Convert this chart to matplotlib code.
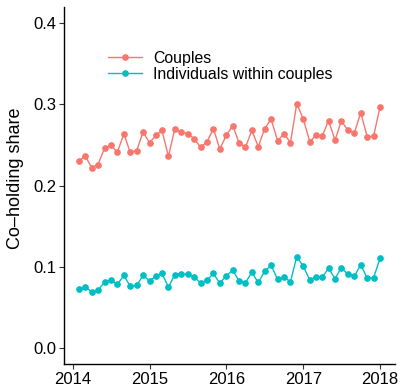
import matplotlib
matplotlib.use("Agg")
import matplotlib.pyplot as plt
import matplotlib.dates as mdates
import pandas as pd

plt.rcParams['font.family'] = ['Liberation Sans', 'DejaVu Sans']

months = pd.date_range("2014-02-01", "2018-01-01", freq="MS")

couples = [0.230, 0.237, 0.222, 0.226, 0.246, 0.250, 0.241, 0.264, 0.241, 0.243,
           0.266, 0.253, 0.262, 0.268, 0.236, 0.270, 0.266, 0.264, 0.258, 0.247,
           0.254, 0.270, 0.245, 0.262, 0.274, 0.253, 0.247, 0.268, 0.248, 0.270,
           0.282, 0.255, 0.264, 0.253, 0.301, 0.282, 0.254, 0.262, 0.261, 0.280,
           0.256, 0.280, 0.268, 0.265, 0.290, 0.260, 0.261, 0.297]

individuals = [0.0725, 0.0755, 0.0693, 0.0713, 0.0812, 0.0837, 0.0783, 0.0895, 0.0762, 0.0771,
               0.0895, 0.0829, 0.0882, 0.0920, 0.0750, 0.0903, 0.0916, 0.0911, 0.0874, 0.0804,
               0.0833, 0.0920, 0.0796, 0.0893, 0.0957, 0.0829, 0.0804, 0.0932, 0.0808, 0.0944,
               0.1019, 0.0845, 0.0874, 0.0817, 0.1126, 0.1006, 0.0837, 0.0879, 0.0870, 0.0985,
               0.0854, 0.0990, 0.0907, 0.0886, 0.1027, 0.0861, 0.0866, 0.1105]

series_names = ["Couples", "Individuals within couples"]
colors = ["#F8766D", "#00BFC4"]

fig = plt.figure(figsize=(4.04, 3.88), dpi=100)
ax = fig.add_axes([0.159, 0.061, 0.819, 0.921])

for vals, name, c in zip([couples, individuals], series_names, colors):
    ax.plot(months, vals, color=c, lw=1.0, marker='o', ms=3.8, mec=c, mfc=c, label=name)

x0 = mdates.date2num(pd.Timestamp("2014-02-01"))
x1 = mdates.date2num(pd.Timestamp("2018-01-01"))
pad = (x1 - x0) * 0.05
ax.set_xlim(x0 - pad, x1 + pad)
ax.set_ylim(-0.02, 0.42)

ax.xaxis.set_major_locator(mdates.YearLocator())
ax.xaxis.set_major_formatter(mdates.DateFormatter("%Y"))
ax.set_yticks([0.0, 0.1, 0.2, 0.3, 0.4])
ax.set_yticklabels(["0.0", "0.1", "0.2", "0.3", "0.4"])

for s in ["top", "right"]:
    ax.spines[s].set_visible(False)
for s in ["left", "bottom"]:
    ax.spines[s].set_color("black")
    ax.spines[s].set_linewidth(1.0)

ax.tick_params(axis='both', direction='out', length=3.5, width=0.8, color='#333333',
               labelsize=12, labelcolor='black', pad=2)
ax.set_ylabel("Co\u2013holding share", fontsize=13)
ax.yaxis.set_label_coords(-0.122, 0.521)

leg = ax.legend(loc='upper left', bbox_to_anchor=(0.113, 0.895), frameon=False,
                fontsize=11.4, handlelength=2.15, handletextpad=0.7,
                labelspacing=0.05, borderaxespad=0)

fig.savefig("out.png", dpi=100)
